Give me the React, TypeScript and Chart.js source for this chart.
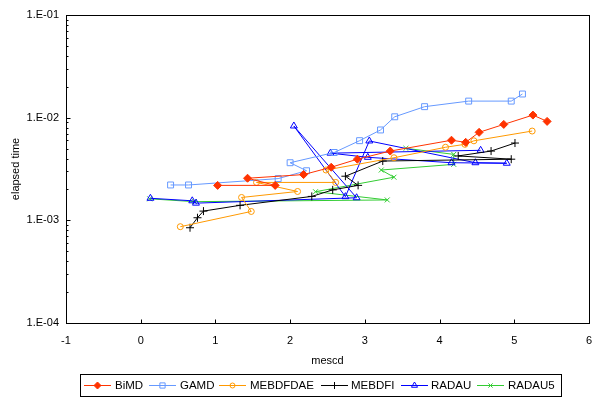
import React, { useEffect, useRef } from 'react';
import { Chart, registerables } from 'chart.js';
import { drawPoint } from 'chart.js/helpers';

Chart.register(...registerables);

// ---- data ----
const seriesNames = ['BiMD', 'GAMD', 'MEBDFDAE', 'MEBDFI', 'RADAU', 'RADAU5'];

const bimdX = [1.03, 1.80, 1.43, 2.18, 2.55, 2.90, 3.34, 4.16, 4.35, 4.53, 4.86, 5.25, 5.44];
const bimdY = [2.19e-3, 2.19e-3, 2.57e-3, 2.79e-3, 3.29e-3, 3.94e-3, 4.73e-3, 6.03e-3, 5.75e-3, 7.2e-3, 8.6e-3, 1.06e-2, 9.2e-3];

const gamdX = [0.40, 0.64, 1.84, 2.22, 2.00, 2.59, 2.93, 3.21, 3.40, 3.80, 4.39, 4.96, 5.11];
const gamdY = [2.21e-3, 2.21e-3, 2.55e-3, 3.04e-3, 3.64e-3, 4.58e-3, 5.97e-3, 7.59e-3, 1.02e-2, 1.28e-2, 1.45e-2, 1.45e-2, 1.70e-2];

const mebdfdaeX = [0.53, 1.48, 1.35, 2.10, 1.55, 2.61, 2.48, 3.39, 4.08, 4.34, 4.46, 5.24];
const mebdfdaeY = [8.67e-4, 1.22e-3, 1.67e-3, 1.91e-3, 2.34e-3, 2.34e-3, 3.09e-3, 4.07e-3, 5.15e-3, 5.5e-3, 5.95e-3, 7.41e-3];

const mebdfiX = [0.66, 0.76, 0.84, 1.33, 2.29, 2.57, 2.91, 2.74, 3.24, 4.96, 4.25, 4.69, 5.01];
const mebdfiY = [8.47e-4, 1.06e-3, 1.23e-3, 1.40e-3, 1.71e-3, 1.98e-3, 2.19e-3, 2.69e-3, 3.78e-3, 3.94e-3, 4.24e-3, 4.73e-3, 5.66e-3];

const radauX = [0.13, 0.69, 0.74, 2.89, 2.05, 2.74, 3.06, 4.48, 4.90, 4.16, 3.04, 2.54, 4.55];
const radauY = [1.64e-3, 1.55e-3, 1.47e-3, 1.66e-3, 8.3e-3, 1.70e-3, 5.93e-3, 3.64e-3, 3.60e-3, 3.64e-3, 4.11e-3, 4.51e-3, 4.81e-3];

const radau5X = [0.12, 0.72, 3.30, 2.34, 3.39, 3.22, 4.19, 4.19, 3.55];
const radau5Y = [1.62e-3, 1.52e-3, 1.58e-3, 1.90e-3, 2.63e-3, 3.09e-3, 3.51e-3, 4.39e-3, 5.03e-3];

const xTicks = [-1, 0, 1, 2, 3, 4, 5, 6];
const yTicks = [1e-4, 1e-3, 1e-2, 1e-1];
const yTickLabels = ['1.E-04', '1.E-03', '1.E-02', '1.E-01'];
const xTitle = 'mescd';
const yTitle = 'elapsed time';

const FONT = '"Liberation Sans", Arial, sans-serif';

const styles = [
  { color: '#FF3300', pointStyle: 'rectRot', radius: 4, fill: '#FF3300' },
  { color: '#6699FF', pointStyle: 'rect', radius: 4.2, fill: 'rgba(0,0,0,0)' },
  { color: '#FF9900', pointStyle: 'circle', radius: 3, fill: 'rgba(0,0,0,0)' },
  { color: '#000000', pointStyle: 'cross', radius: 4, fill: 'rgba(0,0,0,0)' },
  { color: '#0000FF', pointStyle: 'triangle', radius: 4, fill: 'rgba(0,0,0,0)' },
  { color: '#33CC33', pointStyle: 'crossRot', radius: 3.5, fill: 'rgba(0,0,0,0)' },
];

const seriesData = [
  [bimdX, bimdY],
  [gamdX, gamdY],
  [mebdfdaeX, mebdfdaeY],
  [mebdfiX, mebdfiY],
  [radauX, radauY],
  [radau5X, radau5Y],
];

const framePlugin = {
  id: 'frame',
  afterDraw(chart: any) {
    const { ctx, chartArea: a, scales } = chart;
    ctx.save();
    ctx.strokeStyle = '#000';
    ctx.lineWidth = 1;
    const L = Math.round(a.left) + 0.5;
    const T = Math.round(a.top) + 0.5;
    const R = Math.round(a.right) + 0.5;
    const B = Math.round(a.bottom) + 0.5;
    ctx.strokeRect(L, T, R - L, B - T);
    ctx.beginPath();
    for (const v of xTicks) {
      const px = Math.round(scales.x.getPixelForValue(v)) + 0.5;
      ctx.moveTo(px, B);
      ctx.lineTo(px, B - 4);
    }
    for (let d = -4; d < -1 + 0.5; d++) {
      for (let m = 1; m <= 9; m++) {
        const v = m * Math.pow(10, d);
        if (v > 0.1 + 1e-12) break;
        const py = Math.round(scales.y.getPixelForValue(v)) + 0.5;
        const len = m === 1 ? 4 : 2;
        ctx.moveTo(L, py);
        ctx.lineTo(L + len, py);
      }
    }
    ctx.stroke();

    // axis titles
    ctx.fillStyle = '#000';
    ctx.font = `11px ${FONT}`;
    ctx.textAlign = 'center';
    ctx.textBaseline = 'middle';
    ctx.fillText(xTitle, (a.left + a.right) / 2, 361);
    ctx.save();
    ctx.translate(16, (a.top + a.bottom) / 2);
    ctx.rotate(-Math.PI / 2);
    ctx.fillText(yTitle, 0, 0);
    ctx.restore();

    // legend
    ctx.strokeRect(80.5, 374.5, 481, 22);
    const lineStarts = [84, 149, 219, 321, 401, 477];
    const textStarts = [115, 180, 250, 351, 431, 508];
    const ly = 385.5;
    ctx.font = `11.5px ${FONT}`;
    ctx.textAlign = 'left';
    seriesNames.forEach((name, i) => {
      const st = styles[i];
      ctx.strokeStyle = st.color;
      ctx.fillStyle = st.fill;
      ctx.lineWidth = 1;
      ctx.beginPath();
      ctx.moveTo(lineStarts[i], ly);
      ctx.lineTo(lineStarts[i] + 27, ly);
      ctx.stroke();
      drawPoint(ctx, { pointStyle: st.pointStyle, radius: st.radius - 0.5, rotation: 0, borderWidth: 1 } as any,
        lineStarts[i] + 13.5, ly);
      ctx.fillStyle = '#000';
      ctx.fillText(name, textStarts[i], ly);
    });
    ctx.restore();
  },
};

export default function App() {
  const ref = useRef<HTMLCanvasElement | null>(null);
  useEffect(() => {
    if (!ref.current) return;
    const datasets = seriesNames.map((name, i) => {
      const [xs, ys] = seriesData[i];
      const st = styles[i];
      return {
        label: name,
        data: xs.map((x, k) => ({ x, y: ys[k] })),
        showLine: true,
        borderColor: st.color,
        backgroundColor: st.fill,
        pointBackgroundColor: st.fill,
        pointBorderColor: st.color,
        pointStyle: st.pointStyle,
        pointRadius: st.radius,
        pointBorderWidth: 1,
        borderWidth: 1,
        tension: 0,
      };
    });
    const chart = new Chart(ref.current, {
      type: 'scatter',
      data: { datasets } as any,
      options: {
        responsive: false,
        animation: false,
        events: [],
        layout: { padding: { top: 15, right: 12, left: 0, bottom: 0 } },
        plugins: { legend: { display: false }, tooltip: { enabled: false } },
        scales: {
          x: {
            type: 'linear',
            min: -1,
            max: 6,
            grid: { display: false, drawTicks: false },
            border: { display: false },
            afterBuildTicks: (s: any) => { s.ticks = xTicks.map((v) => ({ value: v })); },
            afterFit: (s: any) => { s.height = 87; },
            ticks: {
              padding: 11,
              color: '#000',
              autoSkip: false,
              maxRotation: 0,
              font: { family: FONT, size: 11 },
              callback: (v: any) => String(v),
            },
          },
          y: {
            type: 'logarithmic',
            min: 1e-4,
            max: 1e-1,
            grid: { display: false, drawTicks: false },
            border: { display: false },
            afterBuildTicks: (s: any) => { s.ticks = yTicks.map((v) => ({ value: v })); },
            afterFit: (s: any) => { s.width = 66; },
            ticks: {
              padding: 7,
              color: '#000',
              autoSkip: false,
              font: { family: FONT, size: 11 },
              callback: (v: any) => {
                const idx = yTicks.findIndex((t) => Math.abs(Math.log10(t) - Math.log10(v)) < 1e-6);
                return idx >= 0 ? yTickLabels[idx] : '';
              },
            },
          },
        },
      } as any,
      plugins: [framePlugin],
    });
    return () => chart.destroy();
  }, []);
  return (
    <div style={{ position: 'absolute', left: 0, top: 0, width: 603, height: 410, background: '#fff' }}>
      <canvas ref={ref} width={603} height={410} style={{ display: 'block' }} />
    </div>
  );
}
